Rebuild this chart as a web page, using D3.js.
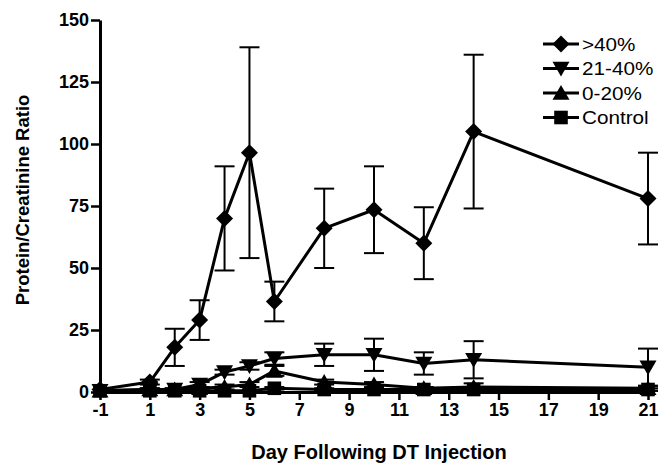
<!DOCTYPE html>
<html>
<head>
<meta charset="utf-8">
<script src="https://cdn.jsdelivr.net/npm/d3@7"></script>
<style>
html,body{margin:0;padding:0;background:#fff;}
svg{display:block;}
text{font-family:"Liberation Sans",Arial,Helvetica,sans-serif;}
</style>
</head>
<body>
<svg id="chart" width="659" height="467"></svg>
<script>
const days = [-1, 1, 2, 3, 4, 5, 6, 8, 10, 12, 14, 21];
const seriesNames = [">40%", "21-40%", "0-20%", "Control"];
const gt40 = [1, 4, 18, 29, 70, 96.5, 36.5, 66, 73.5, 60, 105, 78];
const gt40Err = [0, 1, 7.5, 8, 21, 42.5, 8, 16, 17.5, 14.5, 31, 18.5];
const mid21_40 = [0.5, 1, 1, 3, 8, 10.5, 13.5, 15, 15, 11.5, 13, 10];
const mid21_40Err = [0, 0.5, 0.5, 1, 1, 1.5, 2.5, 4.5, 6.5, 4.5, 7.5, 7.5];
const low0_20 = [0.5, 1, 1, 1.5, 2, 3, 8.5, 4, 3, 1.5, 2, 1.5];
const low0_20Err = [0, 0.5, 0.5, 0.5, 1, 1, 2, 1, 1, 0.5, 1.5, 1];
const control = [0.5, 0.5, 0.5, 0.5, 0.5, 0.5, 1.5, 1, 1, 1, 1, 1];
const controlErr = [0, 0, 0, 0, 0, 0, 0.5, 0.5, 0.5, 0.5, 0.5, 0.5];
const xTicks = [-1, 1, 3, 5, 7, 9, 11, 13, 15, 17, 19, 21];
const yTicks = [0, 25, 50, 75, 100, 125, 150];
const xTitle = "Day Following DT Injection";
const yTitle = "Protein/Creatinine Ratio";

const svg = d3.select("#chart");
const x = d3.scaleLinear().domain([-1, 21]).range([100, 648]);
const y = d3.scaleLinear().domain([0, 150]).range([392, 20]);
const fmt = d => String(d);

// axes
const yAxis = d3.axisLeft(y).tickValues(yTicks).tickFormat(fmt).tickSize(9).tickPadding(2).tickSizeOuter(0);
const gy = svg.append("g").attr("transform", "translate(100,0)").call(yAxis);
gy.select(".domain").attr("stroke-width", 3).attr("stroke", "#000");
gy.selectAll(".tick line").attr("stroke-width", 2.5);
gy.selectAll(".tick text").attr("font-size", 18).attr("font-weight", "bold").attr("fill", "#000")
  .attr("font-family", "'Liberation Sans', Arial, sans-serif");

const xAxis = d3.axisBottom(x).tickValues(xTicks).tickFormat(fmt).tickSize(8).tickPadding(3).tickSizeOuter(0);
const gx = svg.append("g").attr("transform", "translate(0,392)").call(xAxis);
gx.select(".domain").attr("stroke-width", 3).attr("stroke", "#000");
gx.selectAll(".tick line").attr("stroke-width", 2.5);
gx.selectAll(".tick text").attr("font-size", 18).attr("font-weight", "bold").attr("fill", "#000")
  .attr("font-family", "'Liberation Sans', Arial, sans-serif");

svg.append("text").attr("x", 379).attr("y", 459).attr("text-anchor", "middle")
  .attr("font-size", 20).attr("font-weight", "bold").text(xTitle);
svg.append("text").attr("transform", "translate(29,200) rotate(-90)").attr("text-anchor", "middle")
  .attr("font-size", 18.5).attr("font-weight", "bold").text(yTitle);

// marker shapes
const shapes = {
  diamond: s => `M0,${-s}L${s},0L0,${s}L${-s},0Z`,
  down: s => `M${-s},${-s*0.8}L${s},${-s*0.8}L0,${s*0.95}Z`,
  up: s => `M${-s},${s*0.8}L${s},${s*0.8}L0,${-s*0.95}Z`,
  square: s => `M${-s*0.8},${-s*0.8}H${s*0.8}V${s*0.8}H${-s*0.8}Z`
};

const series = [
  {name: seriesNames[3], vals: control, err: controlErr, shape: "square"},
  {name: seriesNames[2], vals: low0_20, err: low0_20Err, shape: "up"},
  {name: seriesNames[1], vals: mid21_40, err: mid21_40Err, shape: "down"},
  {name: seriesNames[0], vals: gt40, err: gt40Err, shape: "diamond"}
];

const line = d3.line().x(d => x(d.d)).y(d => y(d.v));

series.forEach(s => {
  const pts = days.map((d, i) => ({d, v: s.vals[i], e: s.err[i]}));
  const g = svg.append("g");
  pts.filter(p => p.e > 0).forEach(p => {
    const lo = Math.max(0, p.v - p.e), hi = p.v + p.e;
    g.append("line").attr("x1", x(p.d)).attr("x2", x(p.d)).attr("y1", y(lo)).attr("y2", y(hi))
      .attr("stroke", "#000").attr("stroke-width", 2);
    [lo, hi].forEach(v => {
      g.append("line").attr("x1", x(p.d) - 10).attr("x2", x(p.d) + 10).attr("y1", y(v)).attr("y2", y(v))
        .attr("stroke", "#000").attr("stroke-width", 2);
    });
  });
  g.append("path").datum(pts).attr("d", line).attr("fill", "none")
    .attr("stroke", "#000").attr("stroke-width", 3).attr("stroke-linejoin", "round");
  g.selectAll("path.m").data(pts).enter().append("path").attr("class", "m")
    .attr("transform", p => `translate(${x(p.d)},${y(p.v)})`)
    .attr("d", shapes[s.shape](8.5)).attr("fill", "#000");
});

// legend
const legend = svg.append("g");
const legendItems = [
  {name: seriesNames[0], shape: "diamond"},
  {name: seriesNames[1], shape: "down"},
  {name: seriesNames[2], shape: "up"},
  {name: seriesNames[3], shape: "square"}
];
legendItems.forEach((it, i) => {
  const yy = 44 + i * 24.5;
  legend.append("line").attr("x1", 543).attr("x2", 579).attr("y1", yy).attr("y2", yy)
    .attr("stroke", "#000").attr("stroke-width", 3);
  legend.append("path").attr("transform", `translate(561,${yy})`).attr("d", shapes[it.shape](8.5)).attr("fill", "#000");
  legend.append("text").attr("transform", `translate(582,${yy + 6.5}) scale(1.15,1)`)
    .attr("font-size", 18).text(it.name);
});
</script>
</body>
</html>
